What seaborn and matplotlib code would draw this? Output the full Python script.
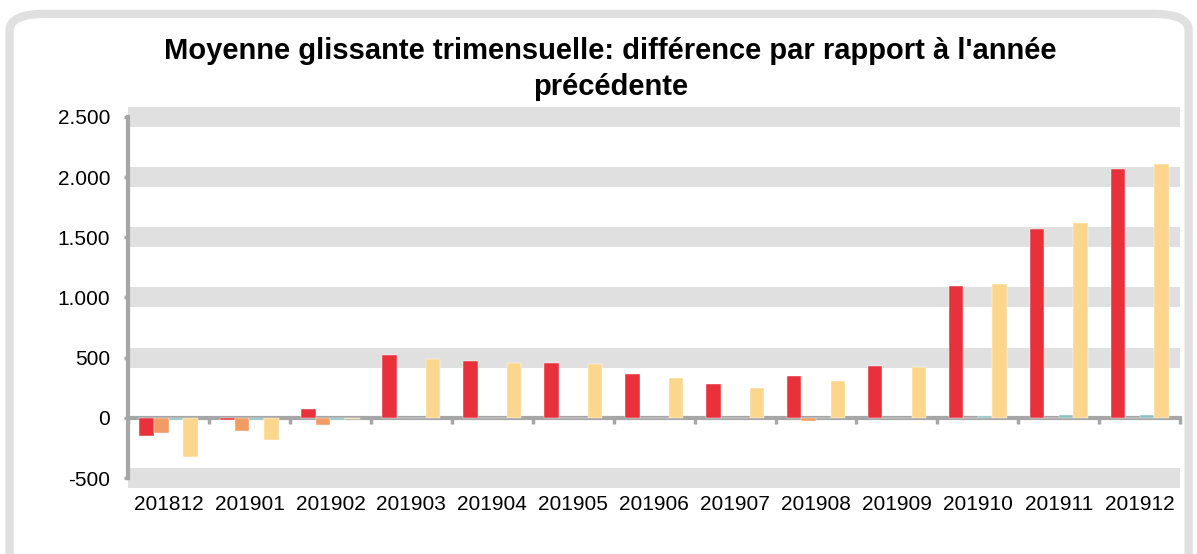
import numpy as np
import pandas as pd
import seaborn as sns
import matplotlib
matplotlib.use('Agg')
import matplotlib.pyplot as plt
from matplotlib.patches import FancyBboxPatch

# Monthly categories and the four series
months = ['201812', '201901', '201902', '201903', '201904', '201905', '201906',
          '201907', '201908', '201909', '201910', '201911', '201912']
series_names = ['Série 1', 'Série 2', 'Série 3', 'Série 4']
serie_1 = [-150, -20, 75, 520, 475, 460, 367, 283, 352, 427, 1093, 1571, 2071]
serie_2 = [-125, -110, -60, 0, 0, 0, 0, 0, -25, 0, 0, 0, 0]
serie_3 = [-20, -15, -20, 0, 0, 0, 0, 0, 0, 0, 15, 20, 20]
serie_4 = [-325, -180, -12, 490, 460, 450, 333, 250, 304, 421, 1110, 1615, 2112]
y_ticks = [-500, 0, 500, 1000, 1500, 2000, 2500]
y_tick_labels = ['-500', '0', '500', '1.000', '1.500', '2.000', '2.500']

colors = ['#E8313A', '#F29B62', '#86C1C0', '#FDD68E']
axis_grey = '#A6A6A6'
band_grey = '#E0E0E0'

df = pd.DataFrame({
    'mois': months * 4,
    'serie': np.repeat(series_names, len(months)),
    'valeur': serie_1 + serie_2 + serie_3 + serie_4,
})

plt.rcParams['font.family'] = ['Liberation Sans', 'DejaVu Sans']

fig = plt.figure(figsize=(11.97, 5.54), dpi=100)
fig.patch.set_facecolor('white')

# rounded chart frame (Excel style)
frame = FancyBboxPatch((0.008, -0.1), 0.985, 1.075,
                       boxstyle='round,pad=0,rounding_size=0.03',
                       transform=fig.transFigure, facecolor='white',
                       edgecolor='#E0E0E0', linewidth=6, zorder=-10)
fig.patches.append(frame)

ax = fig.add_axes([0.107, 0.137, 0.879, 0.652])
ax.set_facecolor('none')

sns.barplot(data=df, x='mois', y='valeur', hue='serie', order=months,
            hue_order=series_names, palette=colors, width=0.72, gap=0,
            saturation=1, legend=False, ax=ax, zorder=3,
            edgecolor='white', linewidth=0.3)

ax.set_ylim(-500, 2500)
ax.set_xlim(-0.5, len(months) - 0.5)

# horizontal grey bands at every tick except zero
for y in y_ticks:
    if y == 0:
        continue
    ax.axhline(y, color=band_grey, linewidth=14.4, zorder=0, clip_on=False,
               solid_capstyle='butt')

ax.set_yticks(y_ticks, y_tick_labels)
ax.tick_params(axis='y', length=3, width=2.5, color=axis_grey, pad=10,
               labelsize=15, labelcolor='black')

# x axis line at zero with ticks on category boundaries
ax.spines['bottom'].set_position(('data', 0))
ax.spines['bottom'].set_color(axis_grey)
ax.spines['bottom'].set_linewidth(3)
ax.spines['left'].set_color(axis_grey)
ax.spines['left'].set_linewidth(3)
ax.spines['top'].set_visible(False)
ax.spines['right'].set_visible(False)
ax.set_xticks(np.arange(-0.5, len(months), 1), [''] * (len(months) + 1))
ax.tick_params(axis='x', length=4, width=2.5, color=axis_grey, direction='out')
ax.set_xlabel('')
ax.set_ylabel('')

# category labels at the bottom of the plot area
sec = ax.secondary_xaxis('bottom')
sec.set_xticks(range(len(months)), months)
sec.tick_params(length=0, pad=12, labelsize=15, labelcolor='black')
sec.spines['bottom'].set_visible(False)

fig.text(0.51, 0.875, "Moyenne glissante trimensuelle: différence par rapport à l'année\nprécédente",
         ha='center', va='center', fontsize=21, fontweight='bold',
         linespacing=1.35)

fig.savefig('out.png', dpi=100)
